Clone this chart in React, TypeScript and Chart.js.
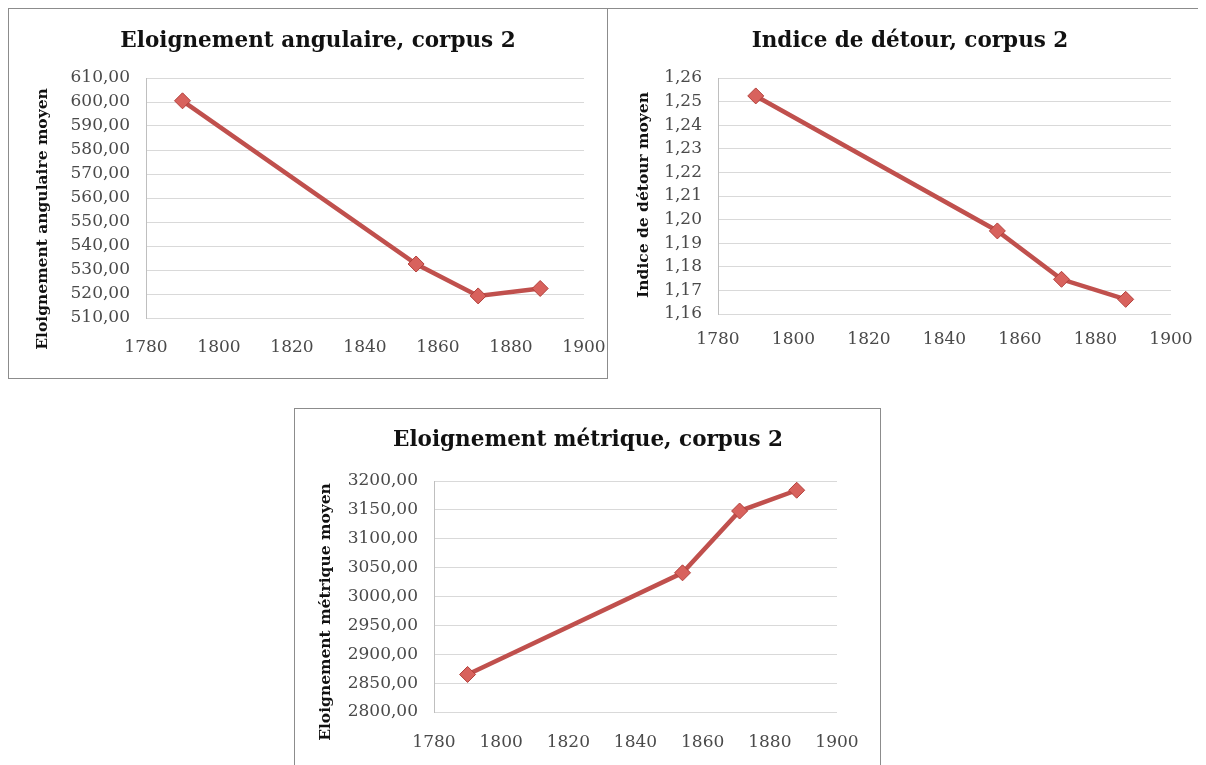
import React, { useEffect, useRef } from "react";
import { Chart, registerables } from "chart.js";

Chart.register(...registerables);

// ---- data ----
const years = [1790, 1854, 1871, 1888];
const angularValues = [600.5, 532.5, 519.2, 522.3];
const detourValues = [1.2524, 1.1952, 1.1747, 1.1662];
const metricValues = [2865, 3041, 3148, 3184];

const xMin = 1780;
const xMax = 1900;
const xStep = 20;

const titles = [
  "Eloignement angulaire, corpus 2",
  "Indice de détour, corpus 2",
  "Eloignement métrique, corpus 2",
];
const yTitles = [
  "Eloignement angulaire moyen",
  "Indice de détour moyen",
  "Eloignement métrique moyen",
];
const yRanges = [
  { min: 510, max: 610, step: 10 },
  { min: 1.16, max: 1.26, step: 0.01 },
  { min: 2800, max: 3200, step: 50 },
];

// ---- layout (page coordinates) ----
type Spec = {
  box: { left: number; top: number; width: number; height: number; borders: string };
  titleCx: number;
  titleCy: number;
  plotL: number;
  plotT: number;
  plotR: number;
  plotB: number;
  yTitleX: number;
  yTitleCy: number;
  xLabelY: number;
};

const specs: Spec[] = [
  { box: { left: 8, top: 8, width: 600, height: 371, borders: "ltrb" }, titleCx: 318, titleCy: 41, plotL: 146, plotT: 78, plotR: 584, plotB: 318, yTitleX: 43, yTitleCy: 219, xLabelY: 348 },
  { box: { left: 608, top: 8, width: 590, height: 360, borders: "t" }, titleCx: 910, titleCy: 41, plotL: 718, plotT: 78, plotR: 1171, plotB: 314, yTitleX: 644, yTitleCy: 195, xLabelY: 340 },
  { box: { left: 294, top: 408, width: 587, height: 357, borders: "ltr" }, titleCx: 588, titleCy: 440, plotL: 434, plotT: 481, plotR: 837, plotB: 712, yTitleX: 326, yTitleCy: 612, xLabelY: 743 },
];

const TICK_FONT = 17;
const TITLE_FONT = 21.5;
const YT_FONT = 15.5;
const SERIF = "'DejaVu Serif', 'Liberation Serif', serif";

const LINE_COLOR = "#c0504d";
const MARKER_FILL = "#d8625d";
const MARKER_BORDER = "#b23f3a";
const GRID_COLOR = "#d9d9d9";
const TICK_COLOR = "#4a4a4a";

function computeLayout(s: Spec) {
  const tickLH = TICK_FONT * 1.2;
  const titleLH = TITLE_FONT * 1.2;
  const ytLH = YT_FONT * 1.2;
  const rightPad = 24;
  const cRight = s.plotR + rightPad;
  const A = 2 * s.titleCx - s.plotR; // left edge of the title box
  const cLeft = Math.floor(Math.min(A, s.yTitleX - ytLH / 2 - 3));
  const leftPad = A - cLeft;
  const cWidth = cRight - cLeft;
  const subW = 1;
  const subPadTop = s.yTitleX - A - ytLH / 2;
  const subPadBottom = subW - ytLH - subPadTop;
  const yAxisW = s.plotL - A - subW;
  const cTop = s.box.top + 1;
  const cBottom = Math.round(2 * s.yTitleCy - cTop);
  const cHeight = cBottom - cTop;
  const titlePadTop = s.titleCy - cTop - titleLH / 2;
  const titlePadBottom = s.plotT - cTop - titlePadTop - titleLH;
  const xAxisH = cBottom - s.plotB;
  const xTickLen = s.xLabelY - s.plotB - tickLH / 2;
  return { cLeft, cWidth, cTop, cHeight, leftPad, rightPad, titlePadTop, titlePadBottom, subPadTop, subPadBottom, yAxisW, xAxisH, xTickLen };
}

function ChartBox({ idx }: { idx: number }) {
  const b = specs[idx].box;
  const bc = "#8c8c8c";
  return (
    <div
      style={{
        position: "absolute",
        left: b.left,
        top: b.top,
        width: b.width,
        height: b.height,
        boxSizing: "border-box",
        borderLeft: b.borders.includes("l") ? `1px solid ${bc}` : "none",
        borderTop: b.borders.includes("t") ? `1px solid ${bc}` : "none",
        borderRight: b.borders.includes("r") ? `1px solid ${bc}` : "none",
        borderBottom: b.borders.includes("b") ? `1px solid ${bc}` : "none",
        background: "#ffffff",
      }}
    />
  );
}

function LineChart({ idx, values }: { idx: number; values: number[] }) {
  const ref = useRef<HTMLCanvasElement>(null);
  const s = specs[idx];
  const L = computeLayout(s);

  useEffect(() => {
    if (!ref.current) return;
    const yr = yRanges[idx];
    const chart = new Chart(ref.current, {
      type: "line",
      data: {
        datasets: [
          {
            data: years.map((x, i) => ({ x, y: values[i] })),
            borderColor: LINE_COLOR,
            borderWidth: 4.5,
            pointStyle: "rectRot",
            pointRadius: 8,
            pointBackgroundColor: MARKER_FILL,
            pointBorderColor: MARKER_BORDER,
            pointBorderWidth: 1,
            tension: 0,
            clip: false,
          },
        ],
      },
      options: {
        responsive: false,
        animation: false,
        events: [],
        layout: { padding: { left: L.leftPad, right: L.rightPad, top: 0, bottom: 0 } },
        plugins: {
          legend: { display: false },
          tooltip: { enabled: false },
          title: {
            display: true,
            text: titles[idx],
            color: "#111111",
            font: { family: SERIF, size: TITLE_FONT, weight: "bold" },
            padding: { top: L.titlePadTop, bottom: L.titlePadBottom },
          },
          subtitle: {
            display: true,
            position: "left",
            align: "center",
            fullSize: true,
            text: yTitles[idx],
            color: "#111111",
            font: { family: SERIF, size: YT_FONT, weight: "bold" },
            padding: { top: L.subPadTop, bottom: L.subPadBottom },
          },
        },
        scales: {
          x: {
            type: "linear",
            min: xMin,
            max: xMax,
            grid: { display: false, drawTicks: true, tickLength: L.xTickLen },
            border: { display: false },
            ticks: {
              stepSize: xStep,
              color: TICK_COLOR,
              padding: 0,
              maxRotation: 0,
              font: { family: SERIF, size: TICK_FONT },
              callback: (v: any) => String(v),
            },
            afterFit: (sc: any) => {
              sc.height = L.xAxisH;
            },
          },
          y: {
            type: "linear",
            min: yr.min,
            max: yr.max,
            grid: { color: GRID_COLOR, lineWidth: 1, drawTicks: false },
            border: { display: true, color: "#bfbfbf", width: 1 },
            ticks: {
              stepSize: yr.step,
              color: TICK_COLOR,
              padding: 16,
              font: { family: SERIF, size: TICK_FONT },
              callback: (v: any) => Number(v).toFixed(2).replace(".", ","),
            },
            afterFit: (sc: any) => {
              sc.width = L.yAxisW;
            },
          },
        },
      },
    } as any);
    return () => chart.destroy();
  }, [idx, values]);

  return (
    <canvas
      ref={ref}
      width={L.cWidth}
      height={L.cHeight}
      style={{ position: "absolute", left: L.cLeft, top: L.cTop, width: L.cWidth, height: L.cHeight }}
    />
  );
}

export default function App() {
  return (
    <div style={{ position: "absolute", left: 0, top: 0, width: 1206, height: 765, overflow: "hidden", background: "#ffffff" }}>
      <ChartBox idx={0} />
      <LineChart idx={0} values={angularValues} />
      <ChartBox idx={1} />
      <LineChart idx={1} values={detourValues} />
      <ChartBox idx={2} />
      <LineChart idx={2} values={metricValues} />
    </div>
  );
}
